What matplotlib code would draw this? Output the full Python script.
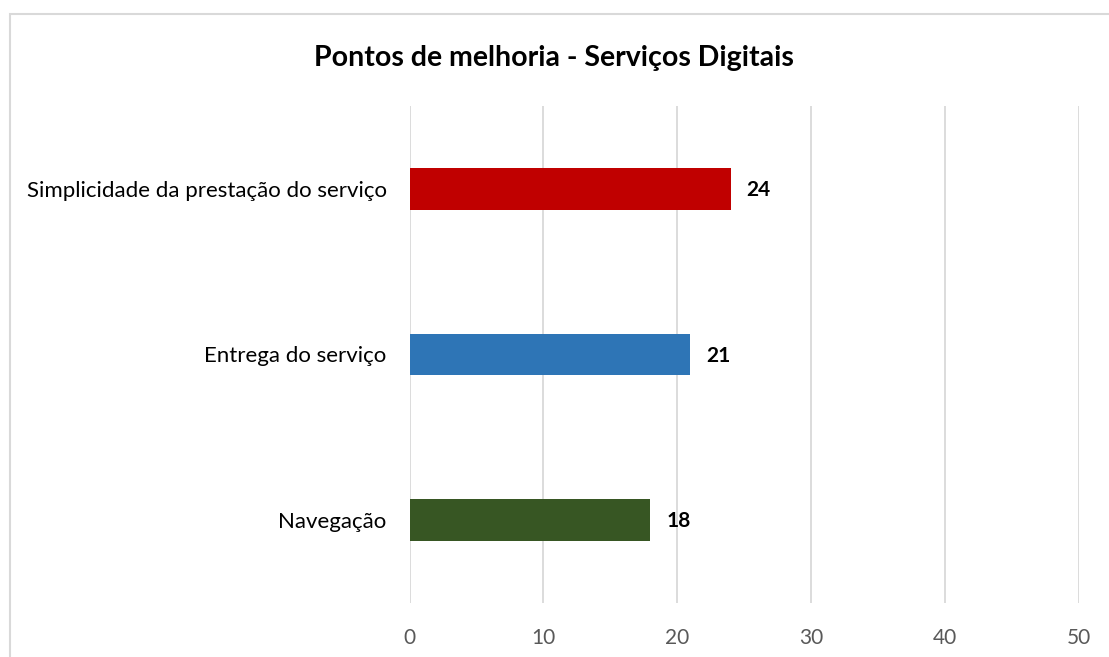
import matplotlib
matplotlib.use("Agg")
import matplotlib.pyplot as plt
from matplotlib.patches import Rectangle

categories = ["Navegação", "Entrega do serviço", "Simplicidade da prestação do serviço"]
values = [18, 21, 24]
colors = ["#375623", "#2E75B6", "#C00000"]
xticks = [0, 10, 20, 30, 40, 50]
title = "Pontos de melhoria - Serviços Digitais"

FONT = ["Lato", "DejaVu Sans"]
plt.rcParams["font.family"] = FONT

W, H = 1109, 657
fig = plt.figure(figsize=(W / 100, H / 100), dpi=100)
fig.patch.set_facecolor("white")

# chart frame
fig.add_artist(Rectangle((9.5 / W, -0.1), 1.2, 1.1 - 13.5 / H,
                         transform=fig.transFigure, fill=False,
                         edgecolor="#D9D9D9", linewidth=1.5))

left, right, top, bottom = 409.5, 1078.5, 106, 603
ax = fig.add_axes([left / W, 1 - bottom / H, (right - left) / W, (bottom - top) / H])

y = list(range(len(categories)))
bars = ax.barh(y, values, height=0.25, color=colors, zorder=3)

ax.set_xlim(0, 50)
ax.set_ylim(-0.5, len(categories) - 0.5)
ax.set_xticks(xticks)
ax.set_xticklabels([str(t) for t in xticks])
ax.set_yticks(y)
ax.set_yticklabels(categories)

for side in ax.spines.values():
    side.set_visible(False)
ax.grid(axis="x", color="#D9D9D9", linewidth=1.3, zorder=0)
ax.tick_params(axis="x", length=0, pad=18, labelsize=15, labelcolor="#595959")
ax.tick_params(axis="y", length=0, pad=16.5, labelsize=16, labelcolor="#000000")

for b, v in zip(bars, values):
    ax.annotate(str(v), (v, b.get_y() + b.get_height() / 2),
                xytext=(16, -1), textcoords="offset pixels",
                ha="left", va="center", fontsize=15, fontweight="bold", color="#000000")

fig.text(554 / W, 1 - 58 / H, title, ha="center", va="center",
         fontsize=20.5, fontweight="bold", color="#000000")

fig.savefig("out.png", dpi=100, facecolor="white")
